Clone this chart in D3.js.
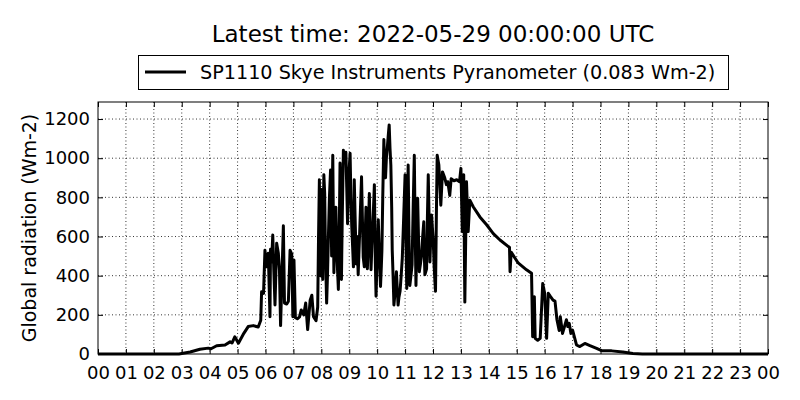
<!DOCTYPE html>
<html>
<head>
<meta charset="utf-8">
<script src="https://cdn.jsdelivr.net/npm/d3@7"></script>
<style>
  body { margin: 0; background: #fff; }
  text { font-family: "DejaVu Sans", sans-serif; fill: #000; }
</style>
</head>
<body>
<div id="chart"></div>
<script>
// hours since 00 UTC and global radiation (Wm-2)
const hours = [0, 2.9, 3.3, 3.65, 3.95, 4.05, 4.25, 4.55, 4.73, 4.8, 4.9, 5.03, 5.2, 5.38, 5.56, 5.74, 5.83, 5.86, 5.93, 5.98,
  6.04, 6.1, 6.16, 6.18, 6.22, 6.26, 6.3, 6.34, 6.4, 6.46, 6.5, 6.54, 6.64, 6.68, 6.76, 6.82, 6.88, 6.94, 6.98, 7.02,
  7.07, 7.14, 7.22, 7.28, 7.37, 7.44, 7.51, 7.6, 7.66, 7.72, 7.81, 7.87,
  7.9, 7.93, 7.95, 7.97, 7.99, 8.01, 8.03, 8.05, 8.07, 8.09,
  8.12, 8.15, 8.19, 8.22, 8.25, 8.29, 8.33, 8.35, 8.37, 8.39,
  8.41, 8.43, 8.45, 8.48, 8.52, 8.56, 8.61, 8.64, 8.67, 8.7,
  8.72, 8.75, 8.79, 8.83, 8.88, 8.91, 8.94, 8.98, 9.03, 9.06,
  9.09, 9.12, 9.15, 9.18, 9.21, 9.25, 9.28, 9.32, 9.38, 9.44,
  9.47, 9.5, 9.54, 9.57, 9.6, 9.62, 9.65, 9.68, 9.72, 9.75,
  9.78, 9.81, 9.84, 9.87, 9.9, 9.93, 9.96, 10.0, 10.04, 10.08,
  10.12, 10.15, 10.17, 10.2, 10.24, 10.27, 10.3, 10.33, 10.37, 10.4,
  10.43, 10.46, 10.49, 10.52, 10.54, 10.57, 10.6, 10.65, 10.69, 10.72,
  10.75, 10.78, 10.82, 10.86, 10.9, 10.95, 11.0, 11.03, 11.06, 11.08,
  11.11, 11.14, 11.17, 11.21, 11.25, 11.29, 11.33, 11.36, 11.39, 11.42,
  11.45, 11.48, 11.51, 11.55, 11.59, 11.63, 11.67, 11.69, 11.71, 11.74,
  11.77, 11.8, 11.83, 11.86, 11.89, 11.92, 11.95, 11.98, 12.01, 12.04,
  12.07, 12.09, 12.12, 12.15,
  12.21, 12.28, 12.34, 12.42, 12.48, 12.53, 12.6, 12.65, 12.75, 12.85, 12.95, 13.0, 13.05, 13.1, 13.14, 13.2, 13.26, 13.32, 13.44, 13.68,
  13.92, 14.16, 14.4, 14.7, 14.74, 14.76, 14.8, 15.05, 15.35, 15.53, 15.57, 15.63, 15.66, 15.75, 15.84, 15.93, 16.0, 16.07, 16.13, 16.21,
  16.3, 16.37, 16.44, 16.52, 16.56, 16.64, 16.78, 16.83, 16.88, 16.94, 17.0, 17.14, 17.26, 17.44, 17.6, 17.86, 18.04, 18.4, 18.8, 19.16,
  19.5, 24]
const radiation = [0, 0, 10, 24, 30, 27, 42, 46, 62, 56, 88, 55, 100, 140, 145, 138, 172, 318, 310, 530,
  445, 515, 190, 535, 470, 608, 420, 250, 565, 515, 430, 145, 655, 260, 255, 270, 530, 510, 190, 480,
  185, 180, 190, 225, 200, 260, 125, 275, 300, 190, 170, 240,
  600, 890, 500, 400, 700, 840, 600, 380, 700, 915,
  820, 500, 260, 400, 580, 800, 940, 700, 500, 800,
  1015, 700, 415, 600, 750, 500, 330, 600, 975, 600,
  380, 700, 1040, 1000, 1030, 850, 665, 900, 1025, 800,
  650, 550, 445, 890, 700, 460, 600, 405, 650, 905,
  700, 495, 445, 600, 750, 550, 435, 600, 820, 600,
  430, 550, 650, 750, 865, 500, 295, 500, 685, 500,
  345, 450, 530, 800, 1095, 950, 900, 1000, 1065, 1120,
  1170, 1050, 965, 750, 530, 400, 250, 330, 420, 330,
  250, 290, 320, 400, 490, 700, 915, 600, 335, 700,
  965, 600, 350, 400, 455, 750, 1015, 650, 350, 600,
  795, 600, 420, 460, 505, 600, 675, 500, 405, 420,
  435, 700, 915, 700, 470, 600, 710, 640, 575, 450,
  370, 320, 700, 1015,
  965, 760, 930, 900, 865, 880, 810, 895, 885, 890, 880, 948, 625, 915, 265, 880, 625, 785, 752, 700,
  660, 615, 582, 548, 545, 420, 520, 465, 430, 412, 88, 293, 80, 70, 80, 360, 310, 80, 310, 293,
  275, 270, 175, 120, 190, 105, 175, 140, 157, 105, 122, 46, 38, 54, 44, 29, 17, 16, 10, 3,
  0, 0]
const yTicks = [0, 200, 400, 600, 800, 1000, 1200]
const xTicks = d3.range(0, 25)
const xTickLabels = xTicks.map(h => String(h % 24).padStart(2, "0"))

const width = 800, height = 400
const margin = {top: 102, right: 32, bottom: 46, left: 98}

const svg = d3.select("#chart").append("svg").attr("width", width).attr("height", height)

const x = d3.scaleLinear().domain([0, 24]).range([margin.left, width - margin.right])
const y = d3.scaleLinear().domain([0, 1287]).range([height - margin.bottom, margin.top])

// grid
svg.append("g").selectAll("line").data(xTicks.slice(1, -1)).enter().append("line")
    .attr("x1", d => x(d)).attr("x2", d => x(d))
    .attr("y1", margin.top).attr("y2", height - margin.bottom)
    .attr("stroke", "#000").attr("stroke-width", 0.8).attr("stroke-dasharray", "1,2.5")
svg.append("g").selectAll("line").data(yTicks.slice(1)).enter().append("line")
    .attr("x1", margin.left).attr("x2", width - margin.right)
    .attr("y1", d => y(d)).attr("y2", d => y(d))
    .attr("stroke", "#000").attr("stroke-width", 0.8).attr("stroke-dasharray", "1,2.5")

// axes, ticks pointing inward (classic style)
svg.append("g").attr("transform", `translate(0,${height - margin.bottom})`)
    .call(d3.axisBottom(x).tickValues(xTicks).tickSize(-5).tickPadding(12).tickFormat((d, i) => xTickLabels[i]))
svg.append("g").attr("transform", `translate(0,${margin.top})`)
    .call(d3.axisTop(x).tickValues(xTicks).tickSize(-5).tickFormat(""))
svg.append("g").attr("transform", `translate(${margin.left},0)`)
    .call(d3.axisLeft(y).tickValues(yTicks).tickSize(-5).tickPadding(8).tickFormat(d3.format("d")))
svg.append("g").attr("transform", `translate(${width - margin.right},0)`)
    .call(d3.axisRight(y).tickValues(yTicks).tickSize(-5).tickFormat(""))

svg.selectAll(".domain").remove()
svg.selectAll(".tick line").attr("stroke", "#000")
svg.selectAll(".tick text").style("font-family", "DejaVu Sans").style("font-size", "18px").attr("fill", "#000")

// data line
const line = d3.line().x((d, i) => x(hours[i])).y(d => y(d))
svg.append("path").datum(radiation)
    .attr("d", line)
    .attr("fill", "none").attr("stroke", "#000").attr("stroke-width", 3)
    .attr("stroke-linejoin", "round")

// frame
svg.append("rect")
    .attr("x", margin.left).attr("y", margin.top)
    .attr("width", width - margin.left - margin.right).attr("height", height - margin.top - margin.bottom)
    .attr("fill", "none").attr("stroke", "#000").attr("stroke-width", 1)

// title
svg.append("text").attr("x", (margin.left + width - margin.right) / 2).attr("y", 42)
    .attr("text-anchor", "middle").style("font-size", "23px")
    .text("Latest time: 2022-05-29 00:00:00 UTC")

// legend
const lg = svg.append("g")
lg.append("rect").attr("x", 138.5).attr("y", 55.5).attr("width", 590).attr("height", 34)
    .attr("fill", "#fff").attr("stroke", "#000").attr("stroke-width", 1)
lg.append("line").attr("x1", 145).attr("x2", 186).attr("y1", 72).attr("y2", 72)
    .attr("stroke", "#000").attr("stroke-width", 2.8)
lg.append("text").attr("x", 200).attr("y", 79).style("font-size", "19.2px")
    .text("SP1110 Skye Instruments Pyranometer (0.083 Wm-2)")

// y label
svg.append("text").attr("transform", `translate(36,${(margin.top + height - margin.bottom) / 2}) rotate(-90)`)
    .attr("text-anchor", "middle").style("font-size", "19px")
    .text("Global radiation (Wm-2)")
</script>
</body>
</html>
